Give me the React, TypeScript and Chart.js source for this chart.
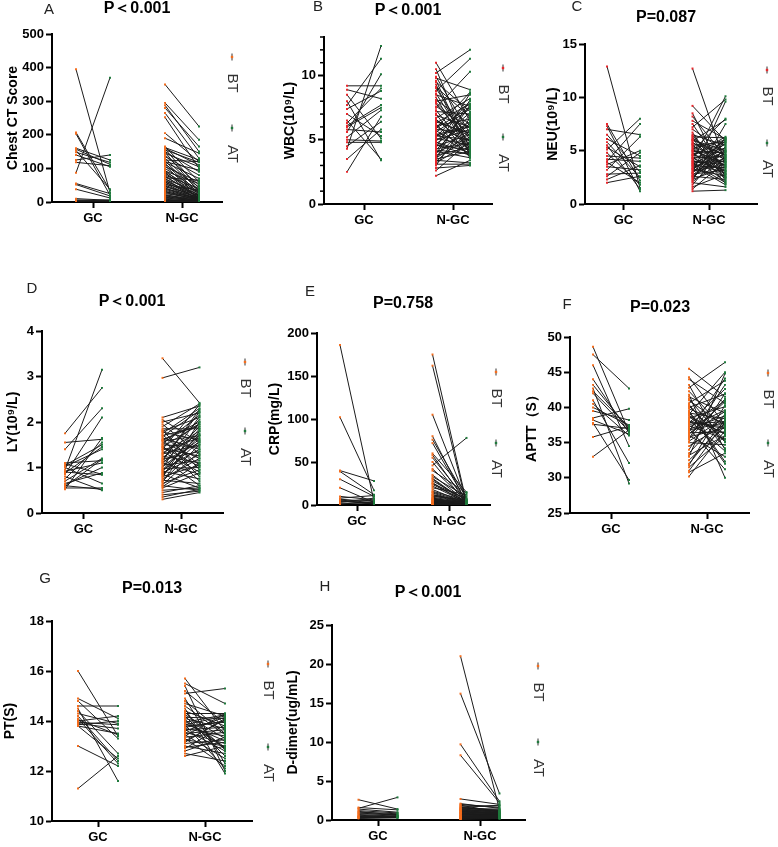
import React, { useEffect, useRef } from 'react';
import { Chart, registerables } from 'chart.js';

Chart.register(...registerables);

const FONT = '"Liberation Sans", Arial, Helvetica, sans-serif';
const ORANGE = '#f46d1e';
const RED = '#e8262b';
const GREEN = '#1f7a3c';

const categories = ['GC', 'N-GC'];
const legendLabels = ['BT', 'AT'];

// ---------- A: Chest CT Score ----------
const ctTicks = [0, 100, 200, 300, 400, 500];
const ctGcBT = [395, 87, 207, 203, 160, 157, 153, 148, 140, 125, 118, 55, 52, 38, 10, 6, 3, 2, 5];
const ctGcAT = [28, 370, 35, 20, 125, 112, 38, 118, 105, 140, 108, 25, 18, 12, 5, 3, 2, 4, 6];
const ctNgcBT = [
  350, 295, 288, 280, 265, 252, 205, 190, 165, 162,
  160, 158, 155, 150, 148, 145, 140, 135, 130, 125,
  122, 120, 118, 115, 112, 108, 105, 100, 95, 92,
  90, 88, 85, 80, 78, 75, 72, 70, 68, 65,
  62, 60, 58, 55, 52, 50, 48, 45, 42, 40,
  38, 35, 32, 30, 28, 25, 22, 20, 18, 16,
  14, 12, 10, 8, 6, 5, 4, 3, 2, 1,
];
const ctNgcAT = [
  225, 185, 150, 165, 130, 100, 120, 145, 60, 125,
  110, 40, 118, 90, 30, 105, 50, 80, 35, 120,
  25, 95, 70, 20, 45, 15, 60, 35, 10, 55,
  30, 8, 25, 40, 12, 20, 65, 5, 30, 15,
  22, 10, 18, 8, 35, 12, 6, 20, 5, 15,
  10, 8, 4, 12, 6, 10, 3, 8, 5, 4,
  6, 3, 5, 2, 4, 3, 2, 3, 2, 1,
];

// ---------- B: WBC ----------
const wbcTicks = [0, 5, 10];
const wbcMinor = [1, 2, 3, 4, 6, 7, 8, 9, 11, 12, 13];
const wbcGcBT = [9.2, 8.5, 8.0, 7.7, 7.4, 6.5, 6.3, 6.1, 5.8, 5.6, 5.2, 4.8, 4.5, 4.3, 3.5, 2.5, 8.9, 7.0, 6.0, 5.0];
const wbcGcAT = [9.2, 5.1, 3.4, 11.3, 8.8, 3.5, 9.0, 7.7, 5.6, 10.1, 7.3, 4.8, 6.4, 12.3, 5.8, 6.8, 8.2, 5.3, 7.5, 4.9];
const wbcNgcBT = [
  11.0, 10.5, 10.2, 9.9, 9.8, 9.6, 9.5, 9.3, 9.1, 9.0,
  8.8, 8.6, 8.5, 8.3, 8.1, 8.0, 7.8, 7.6, 7.5, 7.3,
  7.2, 7.0, 6.9, 6.7, 6.6, 6.5, 6.3, 6.2, 6.1, 6.0,
  5.9, 5.8, 5.7, 5.6, 5.5, 5.4, 5.3, 5.2, 5.1, 5.0,
  4.9, 4.8, 4.7, 4.6, 4.5, 4.4, 4.3, 4.2, 4.1, 4.0,
  3.9, 3.8, 3.7, 3.6, 3.5, 3.4, 3.3, 3.2, 3.1, 3.0,
  2.8, 2.6, 2.2, 5.9, 6.4, 5.3, 4.6, 7.9, 3.5, 4.2,
];
const wbcNgcAT = [
  6.5, 4.2, 12.0, 5.5, 8.9, 4.0, 7.2, 3.8, 6.8, 5.0,
  11.3, 4.5, 7.6, 3.9, 6.2, 8.5, 4.8, 5.9, 10.3, 4.1,
  7.0, 3.6, 6.0, 8.2, 4.4, 5.3, 7.8, 3.7, 6.6, 4.9,
  8.7, 5.6, 4.3, 7.4, 3.9, 6.1, 5.0, 8.0, 4.6, 5.8,
  7.1, 4.0, 6.4, 3.8, 5.4, 8.6, 4.7, 6.9, 3.6, 5.2,
  7.7, 4.4, 6.3, 5.1, 4.1, 3.2, 5.7, 4.8, 3.1, 6.7,
  3.0, 4.9, 3.4, 7.5, 5.5, 6.0, 4.2, 5.3, 8.1, 3.9,
];

// ---------- C: NEU ----------
const neuTicks = [0, 5, 10, 15];
const neuGcBT = [12.9, 7.5, 7.3, 7.0, 6.1, 5.8, 5.3, 5.1, 4.8, 4.5, 4.0, 3.7, 3.5, 3.2, 2.8, 2.6, 2.3, 2.0, 3.9, 5.5, 6.5, 4.2];
const neuGcAT = [1.5, 2.2, 1.2, 6.5, 4.5, 2.5, 3.5, 8.0, 1.8, 4.3, 7.5, 5.0, 3.2, 6.3, 2.9, 4.8, 3.6, 2.6, 2.0, 1.4, 3.0, 4.0];
const neuNgcBT = [
  12.7, 9.2, 8.5, 8.2, 7.8, 7.5, 7.2, 7.0, 6.7, 6.5,
  6.4, 6.3, 6.2, 6.1, 6.0, 5.9, 5.8, 5.7, 5.6, 5.5,
  5.4, 5.3, 5.2, 5.1, 5.0, 4.9, 4.8, 4.7, 4.6, 4.5,
  4.4, 4.3, 4.2, 4.1, 4.0, 3.9, 3.8, 3.7, 3.6, 3.5,
  3.4, 3.3, 3.2, 3.1, 3.0, 2.9, 2.8, 2.7, 2.6, 2.5,
  2.4, 2.3, 2.2, 2.1, 2.0, 1.8, 1.6, 1.4, 1.2, 5.0,
  4.6, 3.8, 6.0, 2.9, 4.3, 3.3, 5.6, 2.6, 4.0, 3.6,
];
const neuNgcAT = [
  3.8, 5.9, 2.5, 4.4, 6.1, 3.0, 9.8, 4.9, 2.2, 5.5,
  3.3, 6.2, 4.1, 2.8, 5.0, 7.9, 3.5, 4.6, 1.9, 5.8,
  4.2, 2.7, 6.0, 3.6, 8.0, 4.8, 2.4, 5.2, 3.9, 6.3,
  2.1, 4.5, 5.6, 3.1, 10.1, 4.0, 2.9, 5.3, 3.4, 6.1,
  4.7, 2.6, 5.7, 3.7, 4.3, 9.6, 3.2, 5.1, 2.3, 4.9,
  6.0, 3.5, 7.5, 4.2, 1.6, 5.4, 2.8, 4.0, 1.3, 3.9,
  5.8, 2.0, 4.6, 6.2, 3.1, 5.0, 2.5, 4.4, 3.7, 1.8,
];

// ---------- D: LY ----------
const lyTicks = [0, 1, 2, 3, 4];
const lyGcBT = [1.75, 1.55, 1.40, 1.10, 1.08, 1.05, 1.00, 0.95, 0.92, 0.88, 0.85, 0.80, 0.75, 0.70, 0.65, 0.62, 0.58, 0.55, 0.52, 0.60, 0.90, 1.02];
const lyGcAT = [2.75, 1.62, 2.30, 1.15, 0.85, 1.50, 0.65, 3.15, 1.10, 1.45, 2.10, 0.50, 1.55, 1.20, 0.88, 1.00, 1.18, 0.55, 1.65, 0.52, 0.84, 1.40];
const lyNgcBT = [
  3.40, 2.97, 2.10, 2.05, 2.00, 1.95, 1.90, 1.85, 1.82, 1.80,
  1.78, 1.75, 1.72, 1.70, 1.68, 1.65, 1.62, 1.60, 1.58, 1.55,
  1.52, 1.50, 1.48, 1.45, 1.42, 1.40, 1.38, 1.35, 1.32, 1.30,
  1.28, 1.25, 1.22, 1.20, 1.18, 1.15, 1.12, 1.10, 1.08, 1.05,
  1.02, 1.00, 0.98, 0.95, 0.92, 0.90, 0.88, 0.85, 0.82, 0.80,
  0.78, 0.75, 0.72, 0.70, 0.68, 0.65, 0.62, 0.60, 0.58, 0.55,
  0.50, 0.45, 0.40, 0.35, 0.30, 1.60, 1.15, 0.85, 1.45, 0.95,
];
const lyNgcAT = [
  2.42, 3.20, 2.35, 1.55, 2.20, 1.30, 2.40, 1.85, 0.95, 2.10,
  1.60, 2.30, 1.05, 1.90, 2.25, 1.40, 0.80, 2.00, 1.70, 1.20,
  2.15, 1.45, 0.70, 1.95, 1.25, 2.38, 1.65, 0.90, 1.80, 1.50,
  2.05, 1.10, 1.75, 0.60, 1.35, 2.28, 1.55, 0.85, 1.90, 1.15,
  1.62, 2.12, 1.00, 1.40, 0.75, 1.85, 1.28, 0.55, 1.70, 1.05,
  2.00, 1.20, 0.65, 1.50, 1.80, 0.95, 1.35, 0.50, 1.10, 0.88,
  0.55, 0.60, 0.48, 0.52, 0.45, 1.95, 2.22, 1.58, 1.02, 1.72,
];

// ---------- E: CRP ----------
const crpTicks = [0, 50, 100, 150, 200];
const crpGcBT = [186, 102, 40, 39, 30, 20, 8, 7, 6, 5, 4, 3, 2, 1, 10, 6];
const crpGcAT = [4, 17, 28, 12, 10, 3, 11, 2, 5, 1, 3, 8, 2, 4, 6, 1];
const crpNgcBT = [
  175, 162, 105, 80, 76, 72, 60, 58, 55, 50,
  46, 42, 35, 33, 31, 30, 28, 26, 24, 22,
  20, 18, 16, 15, 14, 12, 11, 10, 9, 8,
  7, 6.5, 6, 5.5, 5, 4.5, 4, 3.5, 3, 2.5,
  2, 1.8, 1.5, 1.2, 1, 0.8, 0.5, 12, 8, 5,
  3, 2, 25, 40, 6,
];
const crpNgcAT = [
  3, 1, 5, 2, 8, 4, 15, 3, 6, 2,
  78, 5, 4, 10, 3, 2, 6, 1, 4, 3,
  12, 2, 5, 3, 1, 4, 2, 6, 3, 1,
  2, 3, 1, 4, 2, 1, 3, 1, 2, 1,
  1, 2, 1, 1, 0.5, 1, 0.5, 3, 2, 1,
  1, 0.5, 7, 14, 2,
];

// ---------- F: APTT ----------
const apttTicks = [25, 30, 35, 40, 45, 50];
const apttGcBT = [48.6, 47.5, 46.0, 43.2, 42.7, 42.3, 41.0, 40.5, 38.5, 38.2, 37.8, 35.8, 33.0, 44.0, 39.5, 42.0, 37.6, 40.0];
const apttGcAT = [36.5, 42.7, 34.5, 36.9, 29.2, 37.2, 32.1, 36.0, 39.8, 36.2, 29.7, 37.3, 36.8, 36.4, 38.2, 36.6, 37.0, 37.5];
const apttNgcBT = [
  45.5, 44.3, 44.0, 43.2, 42.8, 42.3, 41.8, 41.5, 41.0, 40.6,
  40.2, 40.0, 39.8, 39.5, 39.2, 39.0, 38.8, 38.5, 38.2, 38.0,
  37.8, 37.6, 37.4, 37.2, 37.0, 36.8, 36.6, 36.4, 36.2, 36.0,
  35.8, 35.5, 35.2, 35.0, 34.5, 34.0, 33.5, 33.2, 33.0, 32.5,
  32.0, 31.8, 31.5, 31.0, 30.8, 30.2, 39.3, 36.9, 41.2, 37.7,
  38.6, 35.6, 40.4, 36.3, 37.9,
];
const apttNgcAT = [
  41.5, 37.5, 40.6, 34.0, 46.4, 36.8, 30.0, 39.2, 37.4, 43.8,
  35.1, 41.9, 37.7, 32.3, 38.4, 45.0, 36.2, 40.1, 33.8, 37.2,
  42.6, 38.0, 35.5, 39.6, 31.2, 37.8, 44.1, 36.5, 40.8, 33.0,
  37.1, 41.2, 38.6, 34.7, 37.6, 42.0, 39.0, 36.0, 44.8, 37.3,
  38.2, 40.3, 35.9, 37.9, 33.5, 36.7, 32.0, 38.8, 35.2, 40.9,
  36.3, 43.2, 34.2, 39.4, 37.0,
];

// ---------- G: PT ----------
const ptTicks = [10, 12, 14, 16, 18];
const ptGcBT = [16.0, 14.9, 14.6, 14.5, 14.3, 14.1, 14.0, 13.9, 13.8, 13.8, 13.0, 11.3, 14.8, 14.4, 13.85, 14.05, 13.95, 14.2];
const ptGcAT = [13.4, 14.1, 14.6, 11.6, 13.9, 12.3, 14.2, 13.7, 12.5, 13.5, 12.2, 12.6, 13.3, 12.7, 14.0, 13.45, 13.85, 12.4];
const ptNgcBT = [
  15.7, 15.5, 15.4, 15.2, 15.1, 14.9, 14.8, 14.7, 14.5, 14.4,
  14.3, 14.25, 14.2, 14.15, 14.1, 14.0, 13.95, 13.9, 13.85, 13.8,
  13.75, 13.7, 13.65, 13.6, 13.55, 13.5, 13.45, 13.4, 13.35, 13.3,
  13.25, 13.2, 13.1, 13.0, 12.9, 12.8, 12.7, 12.6, 14.6, 13.85,
  14.05, 13.65, 12.95, 14.35, 13.15,
];
const ptNgcAT = [
  13.6, 14.7, 12.0, 13.9, 15.3, 12.3, 13.5, 14.2, 11.9, 13.8,
  14.3, 13.3, 12.6, 14.1, 13.7, 12.9, 14.25, 13.2, 12.1, 13.95,
  14.0, 13.4, 12.8, 14.15, 13.1, 13.65, 12.5, 14.3, 13.55, 12.2,
  13.0, 14.05, 13.25, 12.7, 13.85, 13.35, 12.4, 13.0, 13.45, 14.2,
  12.95, 13.75, 13.15, 12.85, 14.1,
];

// ---------- H: D-dimer ----------
const ddTicks = [0, 5, 10, 15, 20, 25];
const ddGcBT = [2.6, 1.6, 1.5, 1.4, 1.2, 1.0, 0.9, 0.8, 0.7, 0.6, 0.5, 0.45, 0.4, 0.35, 0.3, 0.25, 0.2, 1.1];
const ddGcAT = [1.4, 1.3, 2.9, 1.0, 0.9, 0.8, 0.6, 0.7, 0.5, 0.45, 0.4, 0.5, 0.35, 0.3, 0.4, 0.3, 0.3, 0.6];
const ddNgcBT = [
  21.0, 16.2, 9.7, 8.3, 2.7, 2.1, 2.0, 1.9, 1.8, 1.7,
  1.6, 1.5, 1.45, 1.4, 1.35, 1.3, 1.25, 1.2, 1.15, 1.1,
  1.05, 1.0, 0.95, 0.9, 0.85, 0.8, 0.75, 0.7, 0.65, 0.6,
  0.55, 0.5, 0.48, 0.45, 0.42, 0.4, 0.38, 0.35, 0.32, 0.3,
  0.28, 0.25, 0.22, 0.2, 0.18, 0.15, 0.12, 0.1, 1.6, 0.9,
];
const ddNgcAT = [
  1.3, 3.4, 2.4, 2.2, 2.0, 1.5, 1.6, 1.0, 1.8, 1.2,
  1.1, 1.4, 0.9, 1.3, 1.0, 0.8, 1.2, 0.9, 0.7, 1.0,
  0.8, 0.9, 0.6, 0.8, 0.7, 1.1, 0.6, 0.7, 0.5, 0.6,
  0.5, 0.6, 0.4, 0.5, 0.4, 0.45, 0.35, 0.4, 0.3, 0.35,
  0.3, 0.3, 0.25, 0.3, 0.2, 0.25, 0.2, 0.2, 1.9, 0.95,
];

type Spec = {
  letter: string;
  title: string;
  yLabel: string;
  gcBT: number[];
  gcAT: number[];
  ngBT: number[];
  ngAT: number[];
  yTicks: number[];
  minor: number[];
  btColor: string;
  box: number[];
  area: number[];
  cat: number[];
  half: number;
  letterPos: number[];
  titlePos: number[];
  legend: number[];
  yTitleX: number;
};

const panels: Spec[] = [
  {
    letter: 'A', title: 'P＜0.001', yLabel: 'Chest CT Score',
    gcBT: ctGcBT, gcAT: ctGcAT, ngBT: ctNgcBT, ngAT: ctNgcAT, yTicks: ctTicks, minor: [], btColor: ORANGE,
    box: [0, 0, 262, 235], area: [52, 34, 222, 202], cat: [93, 182], half: 17,
    letterPos: [49, 10], titlePos: [137, 9], legend: [232, 57, 128], yTitleX: 13,
  },
  {
    letter: 'B', title: 'P＜0.001', yLabel: 'WBC(10⁹/L)',
    gcBT: wbcGcBT, gcAT: wbcGcAT, ngBT: wbcNgcBT, ngAT: wbcNgcAT, yTicks: wbcTicks, minor: wbcMinor, btColor: RED,
    box: [250, 0, 268, 235], area: [324, 37, 492, 204], cat: [364, 453], half: 17,
    letterPos: [318, 7], titlePos: [408, 11], legend: [503, 68, 137], yTitleX: 290,
  },
  {
    letter: 'C', title: 'P=0.087', yLabel: 'NEU(10⁹/L)',
    gcBT: neuGcBT, gcAT: neuGcAT, ngBT: neuNgcBT, ngAT: neuNgcAT, yTicks: neuTicks, minor: [], btColor: RED,
    box: [510, 0, 268, 235], area: [585, 44, 757, 204], cat: [623.5, 709], half: 16.5,
    letterPos: [577, 7], titlePos: [666, 18], legend: [767, 70, 143], yTitleX: 553,
  },
  {
    letter: 'D', title: 'P＜0.001', yLabel: 'LY(10⁹/L)',
    gcBT: lyGcBT, gcAT: lyGcAT, ngBT: lyNgcBT, ngAT: lyNgcAT, yTicks: lyTicks, minor: [], btColor: ORANGE,
    box: [0, 270, 262, 275], area: [42, 331, 223, 513], cat: [83.5, 181], half: 18.5,
    letterPos: [32, 289], titlePos: [132, 302], legend: [245, 362, 431], yTitleX: 13,
  },
  {
    letter: 'E', title: 'P=0.758', yLabel: 'CRP(mg/L)',
    gcBT: crpGcBT, gcAT: crpGcAT, ngBT: crpNgcBT, ngAT: crpNgcAT, yTicks: crpTicks, minor: [], btColor: ORANGE,
    box: [250, 270, 268, 275], area: [317, 333, 490, 505], cat: [357, 449.5], half: 17,
    letterPos: [310, 292], titlePos: [403, 304], legend: [496, 372, 443], yTitleX: 275,
  },
  {
    letter: 'F', title: 'P=0.023', yLabel: 'APTT（S）',
    gcBT: apttGcBT, gcAT: apttGcAT, ngBT: apttNgcBT, ngAT: apttNgcAT, yTicks: apttTicks, minor: [], btColor: ORANGE,
    box: [510, 270, 268, 275], area: [570, 337, 749, 513], cat: [611, 707], half: 18,
    letterPos: [567, 305], titlePos: [660, 308], legend: [768, 373, 443], yTitleX: 532,
  },
  {
    letter: 'G', title: 'P=0.013', yLabel: 'PT(S)',
    gcBT: ptGcBT, gcAT: ptGcAT, ngBT: ptNgcBT, ngAT: ptNgcAT, yTicks: ptTicks, minor: [], btColor: ORANGE,
    box: [0, 560, 282, 287], area: [52, 621, 252, 821], cat: [98, 205], half: 20,
    letterPos: [45, 579], titlePos: [152, 589], legend: [268, 664, 747], yTitleX: 10,
  },
  {
    letter: 'H', title: 'P＜0.001', yLabel: 'D-dimer(ug/mL)',
    gcBT: ddGcBT, gcAT: ddGcAT, ngBT: ddNgcBT, ngAT: ddNgcAT, yTicks: ddTicks, minor: [], btColor: ORANGE,
    box: [280, 560, 275, 287], area: [332, 625, 525, 820], cat: [378, 480], half: 19.5,
    letterPos: [325, 587], titlePos: [428, 593], legend: [538, 666, 742], yTitleX: 293,
  },
];

function Panel({ spec }: { spec: Spec }) {
  const ref = useRef<HTMLCanvasElement>(null);
  const [bx, by, bw, bh] = spec.box;

  useEffect(() => {
    if (!ref.current) return;
    const [L, T, R, B] = spec.area;
    const unit = spec.cat[1] - spec.cat[0];
    const d = spec.half / unit;
    const xMin = -(spec.cat[0] - L) / unit;
    const xMax = 1 + (R - spec.cat[1]) / unit;

    const mk = (bt: number[], at: number[], c: number) => {
      const pts: { x: number; y: number | null }[] = [];
      for (let i = 0; i < bt.length; i++) {
        pts.push({ x: c - d, y: bt[i] });
        pts.push({ x: c + d, y: at[i] });
        pts.push({ x: c, y: null });
      }
      return pts;
    };
    const ds = (data: any) => ({
      data,
      showLine: true,
      spanGaps: false,
      borderColor: '#1b1b1b',
      borderWidth: 1,
      pointStyle: 'rect',
      pointRadius: (c: any) => (c.dataIndex % 3 === 2 ? 0 : 1.4),
      pointHoverRadius: 0,
      pointBorderWidth: 0,
      pointBackgroundColor: (c: any) => (c.dataIndex % 3 === 0 ? spec.btColor : GREEN),
      pointBorderColor: (c: any) => (c.dataIndex % 3 === 0 ? spec.btColor : GREEN),
    });

    const deco = {
      id: 'deco' + spec.letter,
      afterDraw(chart: any) {
        const ctx = chart.ctx;
        ctx.save();
        ctx.textAlign = 'center';
        ctx.textBaseline = 'middle';
        ctx.fillStyle = '#222';
        ctx.font = `15px ${FONT}`;
        ctx.fillText(spec.letter, spec.letterPos[0] - bx, spec.letterPos[1] - by);
        ctx.fillStyle = '#000';
        ctx.font = `bold 16px ${FONT}`;
        ctx.fillText(spec.title, spec.titlePos[0] - bx, spec.titlePos[1] - by);

        // minor ticks
        const ys = chart.scales.y;
        const left = chart.chartArea.left;
        ctx.strokeStyle = '#000';
        ctx.lineWidth = 1.5;
        spec.minor.forEach((v) => {
          const py = ys.getPixelForValue(v);
          ctx.beginPath();
          ctx.moveTo(left - 1, py);
          ctx.lineTo(left - 4, py);
          ctx.stroke();
        });

        // legend
        const items: [number, string, string][] = [
          [spec.legend[1], spec.btColor, legendLabels[0]],
          [spec.legend[2], GREEN, legendLabels[1]],
        ];
        items.forEach(([ly, col, txt]) => {
          const x = spec.legend[0] - bx;
          const y = ly - by;
          ctx.strokeStyle = '#333';
          ctx.lineWidth = 1;
          ctx.beginPath();
          ctx.moveTo(x, y - 3.5);
          ctx.lineTo(x, y + 3.5);
          ctx.stroke();
          ctx.fillStyle = col;
          ctx.fillRect(x - 1.2, y - 1.2, 2.4, 2.4);
          ctx.save();
          ctx.translate(x, y + 26);
          ctx.rotate(Math.PI / 2);
          ctx.fillStyle = '#333';
          ctx.font = `15px ${FONT}`;
          ctx.textAlign = 'center';
          ctx.textBaseline = 'middle';
          ctx.fillText(txt, 0, 0);
          ctx.restore();
        });
        ctx.restore();
      },
    };

    const tickFont = { family: FONT, size: 13, weight: 'bold' as const };
    const grid = { drawOnChartArea: false, drawTicks: true, tickLength: 6, tickColor: '#000', tickWidth: 2 };
    const border = { display: true, color: '#000', width: 2 };

    const chart = new Chart(ref.current, {
      type: 'scatter',
      data: {
        datasets: [ds(mk(spec.gcBT, spec.gcAT, 0)), ds(mk(spec.ngBT, spec.ngAT, 1))] as any,
      },
      options: {
        responsive: false,
        maintainAspectRatio: false,
        animation: false,
        events: [],
        layout: { padding: { left: 0, top: T - by, right: bx + bw - R, bottom: 0 } },
        plugins: { legend: { display: false }, tooltip: { enabled: false }, title: { display: false } },
        scales: {
          x: {
            type: 'linear',
            position: 'bottom',
            min: xMin,
            max: xMax,
            afterFit: (s: any) => {
              s.height = by + bh - B;
            },
            afterBuildTicks: (s: any) => {
              s.ticks = [{ value: 0 }, { value: 1 }];
            },
            ticks: {
              autoSkip: false,
              maxRotation: 0,
              padding: 3,
              color: '#000',
              font: tickFont,
              callback: (v: any) => categories[v] ?? '',
            },
            grid,
            border,
          },
          y: {
            type: 'linear',
            position: 'left',
            min: spec.yTicks[0],
            max: Math.max(spec.yTicks[spec.yTicks.length - 1], spec.minor.length ? spec.minor[spec.minor.length - 1] : -Infinity),
            afterFit: (s: any) => {
              s.width = L - bx;
            },
            afterBuildTicks: (s: any) => {
              s.ticks = spec.yTicks.map((v) => ({ value: v }));
            },
            ticks: { padding: 2, color: '#000', font: tickFont },
            grid,
            border,
            title: {
              display: true,
              text: spec.yLabel,
              color: '#000',
              font: { family: FONT, size: 14, weight: 'bold' },
              padding: { top: spec.yTitleX - bx - 8.4, bottom: 0 },
            },
          },
        },
      } as any,
      plugins: [deco],
    });
    return () => chart.destroy();
  }, [spec]);

  return (
    <canvas
      ref={ref}
      width={bw}
      height={bh}
      style={{ position: 'absolute', left: bx, top: by, width: bw, height: bh }}
    />
  );
}

export default function App() {
  return (
    <div style={{ position: 'absolute', left: 0, top: 0, width: 778, height: 847, background: '#fff' }}>
      {panels.map((p) => (
        <Panel key={p.letter} spec={p} />
      ))}
    </div>
  );
}
